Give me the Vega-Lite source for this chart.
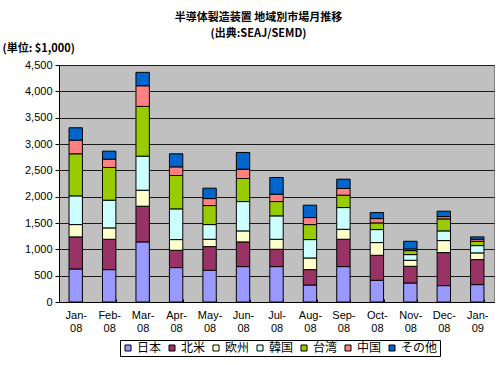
{
  "$schema": "https://vega.github.io/schema/vega-lite/v6.json",
  "autosize": "none",
  "width": 435,
  "height": 237,
  "padding": {"left": 59, "top": 65, "right": 6, "bottom": 63},
  "background": "white",
  "title": {
    "text": ["半導体製造装置 地域別市場月推移", "(出典:SEAJ/SEMD)"],
    "anchor": "middle",
    "dx": -18,
    "offset": 3,
    "font": "Noto Sans CJK JP",
    "fontSize": 11,
    "fontWeight": "bold",
    "lineHeight": 16,
    "color": "black"
  },
  "datasets": {
    "regions": [
      {"r": "日本", "k": 1}, {"r": "北米", "k": 2}, {"r": "欧州", "k": 3}, {"r": "韓国", "k": 4}, {"r": "台湾", "k": 5}, {"r": "中国", "k": 6}, {"r": "その他", "k": 7}
    ]
  },
  "data": {
    "values": [
      {"m": "Jan-08", "r": "日本", "v": 627}, {"m": "Jan-08", "r": "北米", "v": 609}, {"m": "Jan-08", "r": "欧州", "v": 234}, {"m": "Jan-08", "r": "韓国", "v": 545}, {"m": "Jan-08", "r": "台湾", "v": 799}, {"m": "Jan-08", "r": "中国", "v": 259}, {"m": "Jan-08", "r": "その他", "v": 235},
      {"m": "Feb-08", "r": "日本", "v": 615}, {"m": "Feb-08", "r": "北米", "v": 576}, {"m": "Feb-08", "r": "欧州", "v": 216}, {"m": "Feb-08", "r": "韓国", "v": 526}, {"m": "Feb-08", "r": "台湾", "v": 621}, {"m": "Feb-08", "r": "中国", "v": 158}, {"m": "Feb-08", "r": "その他", "v": 152},
      {"m": "Mar-08", "r": "日本", "v": 1141}, {"m": "Mar-08", "r": "北米", "v": 678}, {"m": "Mar-08", "r": "欧州", "v": 304}, {"m": "Mar-08", "r": "韓国", "v": 646}, {"m": "Mar-08", "r": "台湾", "v": 945}, {"m": "Mar-08", "r": "中国", "v": 392}, {"m": "Mar-08", "r": "その他", "v": 254},
      {"m": "Apr-08", "r": "日本", "v": 653}, {"m": "Apr-08", "r": "北米", "v": 329}, {"m": "Apr-08", "r": "欧州", "v": 203}, {"m": "Apr-08", "r": "韓国", "v": 583}, {"m": "Apr-08", "r": "台湾", "v": 634}, {"m": "Apr-08", "r": "中国", "v": 164}, {"m": "Apr-08", "r": "その他", "v": 248},
      {"m": "May-08", "r": "日本", "v": 602}, {"m": "May-08", "r": "北米", "v": 450}, {"m": "May-08", "r": "欧州", "v": 139}, {"m": "May-08", "r": "韓国", "v": 279}, {"m": "May-08", "r": "台湾", "v": 361}, {"m": "May-08", "r": "中国", "v": 133}, {"m": "May-08", "r": "その他", "v": 197},
      {"m": "Jun-08", "r": "日本", "v": 672}, {"m": "Jun-08", "r": "北米", "v": 469}, {"m": "Jun-08", "r": "欧州", "v": 209}, {"m": "Jun-08", "r": "韓国", "v": 557}, {"m": "Jun-08", "r": "台湾", "v": 438}, {"m": "Jun-08", "r": "中国", "v": 177}, {"m": "Jun-08", "r": "その他", "v": 317},
      {"m": "Jul-08", "r": "日本", "v": 672}, {"m": "Jul-08", "r": "北米", "v": 329}, {"m": "Jul-08", "r": "欧州", "v": 190}, {"m": "Jul-08", "r": "韓国", "v": 444}, {"m": "Jul-08", "r": "台湾", "v": 272}, {"m": "Jul-08", "r": "中国", "v": 140}, {"m": "Jul-08", "r": "その他", "v": 317},
      {"m": "Aug-08", "r": "日本", "v": 323}, {"m": "Aug-08", "r": "北米", "v": 292}, {"m": "Aug-08", "r": "欧州", "v": 221}, {"m": "Aug-08", "r": "韓国", "v": 349}, {"m": "Aug-08", "r": "台湾", "v": 285}, {"m": "Aug-08", "r": "中国", "v": 133}, {"m": "Aug-08", "r": "その他", "v": 235},
      {"m": "Sep-08", "r": "日本", "v": 672}, {"m": "Sep-08", "r": "北米", "v": 519}, {"m": "Sep-08", "r": "欧州", "v": 190}, {"m": "Sep-08", "r": "韓国", "v": 412}, {"m": "Sep-08", "r": "台湾", "v": 235}, {"m": "Sep-08", "r": "中国", "v": 127}, {"m": "Sep-08", "r": "その他", "v": 177},
      {"m": "Oct-08", "r": "日本", "v": 412}, {"m": "Oct-08", "r": "北米", "v": 475}, {"m": "Oct-08", "r": "欧州", "v": 241}, {"m": "Oct-08", "r": "韓国", "v": 247}, {"m": "Oct-08", "r": "台湾", "v": 127}, {"m": "Oct-08", "r": "中国", "v": 82}, {"m": "Oct-08", "r": "その他", "v": 114},
      {"m": "Nov-08", "r": "日本", "v": 361}, {"m": "Nov-08", "r": "北米", "v": 317}, {"m": "Nov-08", "r": "欧州", "v": 114}, {"m": "Nov-08", "r": "韓国", "v": 108}, {"m": "Nov-08", "r": "台湾", "v": 76}, {"m": "Nov-08", "r": "中国", "v": 32}, {"m": "Nov-08", "r": "その他", "v": 145},
      {"m": "Dec-08", "r": "日本", "v": 311}, {"m": "Dec-08", "r": "北米", "v": 627}, {"m": "Dec-08", "r": "欧州", "v": 228}, {"m": "Dec-08", "r": "韓国", "v": 184}, {"m": "Dec-08", "r": "台湾", "v": 228}, {"m": "Dec-08", "r": "中国", "v": 44}, {"m": "Dec-08", "r": "その他", "v": 102},
      {"m": "Jan-09", "r": "日本", "v": 330}, {"m": "Jan-09", "r": "北米", "v": 475}, {"m": "Jan-09", "r": "欧州", "v": 127}, {"m": "Jan-09", "r": "韓国", "v": 139}, {"m": "Jan-09", "r": "台湾", "v": 82}, {"m": "Jan-09", "r": "中国", "v": 38}, {"m": "Jan-09", "r": "その他", "v": 45}
    ]
  },
  "transform": [
    {"lookup": "r", "from": {"data": {"name": "regions"}, "key": "r", "fields": ["k"]}}
  ],
  "mark": {"type": "bar", "stroke": "black", "strokeWidth": 1},
  "encoding": {
    "x": {
      "field": "m",
      "type": "nominal",
      "sort": null,
      "scale": {"paddingInner": 0.6, "paddingOuter": 0.3},
      "axis": {
        "title": null,
        "labelAngle": 0,
        "labelExpr": "datum.label ? [split(datum.label,'-')[0] + '-', split(datum.label,'-')[1]] : ''",
        "labelFont": "Liberation Sans",
        "labelFontSize": 11,
        "labelColor": "black",
        "labelLineHeight": 13,
        "labelPadding": 10,
        "labelBaseline": "top",
        "tickBand": "extent",
        "tickSize": -3,
        "tickColor": "black",
        "domainColor": "black",
        "domainWidth": 1
      }
    },
    "y": {
      "field": "v",
      "type": "quantitative",
      "aggregate": "sum",
      "stack": "zero",
      "scale": {"domain": [0, 4500]},
      "axis": {
        "values": [0, 500, 1000, 1500, 2000, 2500, 3000, 3500, 4000, 4500],
        "format": ",d",
        "labelFont": "Liberation Sans",
        "labelFontSize": 11,
        "labelColor": "black",
        "labelPadding": 3,
        "tickSize": 4,
        "tickColor": "black",
        "domainColor": "black",
        "grid": true,
        "gridColor": "#1a1a1a",
        "gridWidth": 1,
        "title": "(単位: $1,000)",
        "titleAngle": 0,
        "titleX": -57,
        "titleY": -17,
        "titleAlign": "left",
        "titleBaseline": "middle",
        "titleFont": "Noto Sans CJK JP",
        "titleFontSize": 11,
        "titleFontWeight": "bold",
        "titleColor": "black"
      }
    },
    "order": {"field": "k", "type": "quantitative", "sort": "ascending"},
    "color": {
      "field": "r",
      "type": "nominal",
      "sort": ["日本", "北米", "欧州", "韓国", "台湾", "中国", "その他"],
      "scale": {
        "domain": ["日本", "北米", "欧州", "韓国", "台湾", "中国", "その他"],
        "range": ["#9999FF", "#993366", "#FFFFCC", "#CCFFFF", "#99CC00", "#FF8080", "#0066CC"]
      },
      "legend": {
        "title": null,
        "orient": "none",
        "legendX": 61,
        "legendY": 275,
        "direction": "horizontal",
        "strokeColor": "black",
        "padding": 2,
        "symbolType": "square",
        "symbolSize": 36,
        "symbolStrokeColor": "black",
        "symbolStrokeWidth": 1,
        "symbolOpacity": 1,
        "labelFont": "Noto Sans CJK JP",
        "labelFontSize": 12,
        "labelColor": "black",
        "labelOffset": 3,
        "columnPadding": 4
      }
    }
  },
  "config": {
    "view": {"fill": "#C0C0C0", "stroke": "#808080", "strokeWidth": 1}
  }
}
